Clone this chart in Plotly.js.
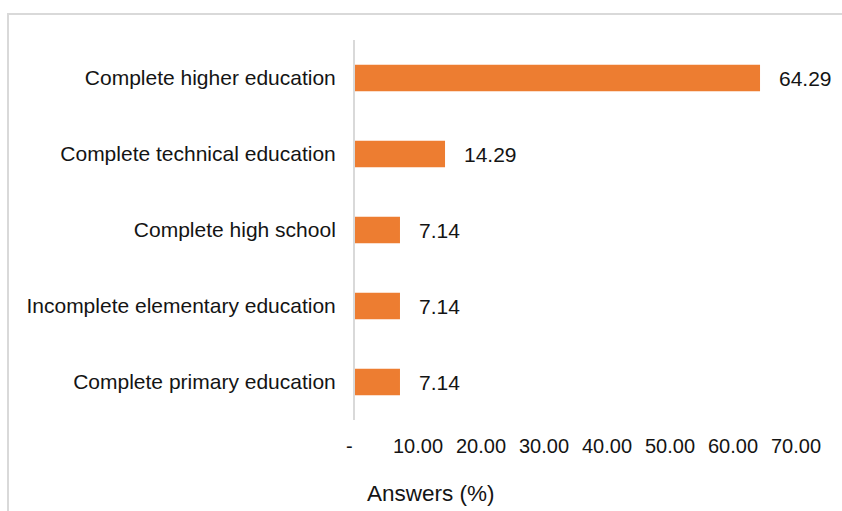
<!DOCTYPE html>
<html>
<head>
<meta charset="utf-8">
<script src="https://cdn.plot.ly/plotly-3.0.1.min.js"></script>
<style>
  html, body { margin: 0; padding: 0; overflow: hidden; background: #fff; }
  #wrap { position: relative; width: 842px; height: 511px; }
  #chart { position: absolute; left: 0; top: 0; width: 842px; height: 511px; }
  #frame { position: absolute; left: 7px; top: 13px; width: 900px; height: 600px;
           border-top: 2px solid #d9d9d9; border-left: 2px solid #d9d9d9; pointer-events: none; }
</style>
</head>
<body>
<div id="wrap">
  <div id="chart"></div>
  <div id="frame"></div>
</div>
<script>
// Categories listed bottom to top
const categories = [
  "Complete primary education",
  "Incomplete elementary education",
  "Complete high school",
  "Complete technical education",
  "Complete higher education"
];
const answers = [7.14, 7.14, 7.14, 14.29, 64.29];
const tickValues = [0, 10, 20, 30, 40, 50, 60, 70];
const tickLabels = ["-\u00a0\u00a0", "10.00", "20.00", "30.00", "40.00", "50.00", "60.00", "70.00"];
const axisTitle = "Answers (%)";

const FONT = "Liberation Sans, Arial, sans-serif";
const TXT = "#141414";

const trace = {
  type: "bar",
  orientation: "h",
  x: answers,
  y: categories,
  marker: { color: "#ED7D31" },
  hoverinfo: "skip"
};

const labelAnns = answers.map((v, i) => ({
  x: v, y: categories[i], xref: "x", yref: "y",
  text: v.toFixed(2), showarrow: false,
  xanchor: "left", yanchor: "middle", xshift: 17,
  font: { family: FONT, size: 21, color: TXT }
}));

const layout = {
  width: 842, height: 511,
  margin: { l: 355, r: 46, t: 40, b: 91, pad: 0 },
  paper_bgcolor: "#ffffff", plot_bgcolor: "#ffffff",
  showlegend: false,
  bargap: 0.65,
  font: { family: FONT, size: 21, color: TXT },
  xaxis: {
    range: [0, 70],
    tickvals: tickValues, ticktext: tickLabels,
    showgrid: false, zeroline: false, showline: false,
    ticks: "", ticklabelstandoff: 12,
    tickfont: { family: FONT, size: 20, color: TXT },
    fixedrange: true
  },
  yaxis: {
    type: "category",
    categoryorder: "array", categoryarray: categories,
    showgrid: false, zeroline: false,
    showline: true, linecolor: "#d9d9d9", linewidth: 2,
    ticks: "", ticklabelstandoff: 13,
    tickfont: { family: FONT, size: 21, color: TXT },
    fixedrange: true
  },
  annotations: labelAnns.concat([{
    xref: "paper", yref: "paper",
    x: (431 - 355) / 441, y: -(493 - 420) / 380,
    xanchor: "center", yanchor: "middle",
    text: axisTitle, showarrow: false,
    font: { family: FONT, size: 22.5, color: TXT }
  }])
};

Plotly.newPlot("chart", [trace], layout, { displayModeBar: false, staticPlot: true });
</script>
</body>
</html>
